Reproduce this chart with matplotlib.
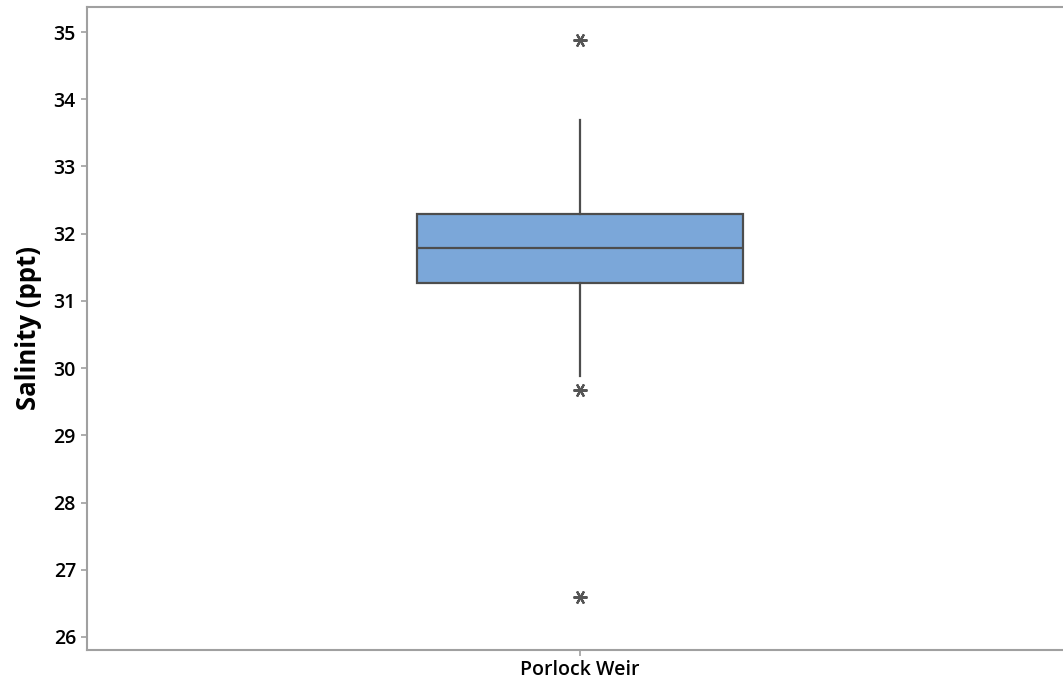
import matplotlib
matplotlib.use("Agg")
import matplotlib.pyplot as plt

category = ["Porlock Weir"]
q1 = [31.27]
median = [31.79]
q3 = [32.29]
whisker_low = [29.88]
whisker_high = [33.69]
outliers = [[34.88, 29.67, 26.6]]
yticks = [26, 27, 28, 29, 30, 31, 32, 33, 34, 35]

plt.rcParams['font.family'] = ['Open Sans', 'DejaVu Sans']

fig = plt.figure(figsize=(10.63, 6.81), dpi=100)
ax = fig.add_axes([87/1063, 1 - 650/681, (1063 - 87)/1063, (650 - 7)/681])

stats = []
for i in range(len(category)):
    stats.append(dict(med=median[i], q1=q1[i], q3=q3[i], whislo=whisker_low[i],
                      whishi=whisker_high[i], fliers=outliers[i], label=category[i]))

edge = "#4d4d4d"
ax.bxp(stats, positions=[1], widths=0.334, showcaps=False, patch_artist=True,
       boxprops=dict(facecolor="#7ba7d9", edgecolor=edge, linewidth=1.6),
       medianprops=dict(color=edge, linewidth=1.6),
       whiskerprops=dict(color=edge, linewidth=1.6),
       flierprops=dict(marker=(6, 2, 90), markersize=10, markeredgecolor="#555555",
                       markerfacecolor="#555555", markeredgewidth=1.6, linestyle="none"))

ax.set_xlim(1 - 493/976, 1 + 483/976)
ax.set_ylim(26 - 13/67.22, 35 + 25/67.22)
ax.set_yticks(yticks)
ax.set_yticklabels([str(t) for t in yticks], fontsize=14, fontweight='semibold')
ax.set_xticks([1])
ax.set_xticklabels(category, fontsize=14, fontweight='semibold')
ax.set_ylabel("Salinity (ppt)", fontsize=18.5, fontweight='bold', labelpad=8)

for s in ["top", "left", "bottom"]:
    ax.spines[s].set_color("#a0a0a0")
    ax.spines[s].set_linewidth(1.5)
ax.spines["right"].set_visible(False)
ax.tick_params(axis='both', colors="#a0a0a0", labelcolor="black", length=4, width=1.2)
ax.tick_params(axis='y', pad=4)
ax.tick_params(axis='x', pad=3)

fig.savefig("out.png", dpi=100)
